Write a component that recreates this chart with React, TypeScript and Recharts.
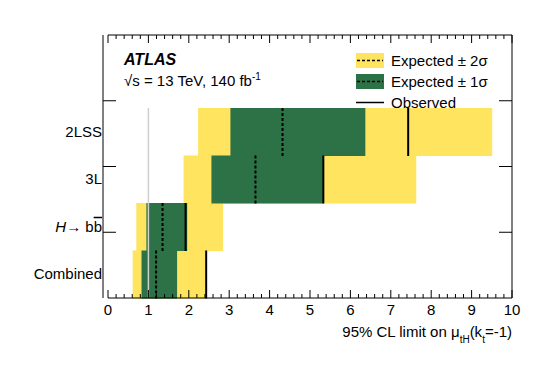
import { ComposedChart, Bar, XAxis, YAxis } from 'recharts';

const categories = ['2LSS', '3L', 'Hbb', 'Combined'];
const expLow2 = [2.23, 1.87, 0.70, 0.61];
const expHigh2 = [9.51, 7.63, 2.85, 2.42];
const expLow1 = [3.03, 2.56, 0.95, 0.83];
const expHigh1 = [6.37, 5.32, 1.96, 1.71];
const expected = [4.32, 3.65, 1.35, 1.19];
const observed = [7.43, 5.33, 1.92, 2.43];
const smRef = [1, 1, 1, 1];
const xTicks = [0, 0.2, 0.4, 0.6, 0.8, 1, 1.2, 1.4, 1.6, 1.8, 2, 2.2, 2.4, 2.6, 2.8, 3, 3.2, 3.4, 3.6, 3.8, 4, 4.2, 4.4, 4.6, 4.8, 5, 5.2, 5.4, 5.6, 5.8, 6, 6.2, 6.4, 6.6, 6.8, 7, 7.2, 7.4, 7.6, 7.8, 8, 8.2, 8.4, 8.6, 8.8, 9, 9.2, 9.4, 9.6, 9.8, 10];
// frame y ticks sit at quarters of the frame height (frame axis runs over the row index 0..n-1)
const frameFractions = [0.25, 0.5, 0.75];

const data = categories.map((cat, i) => ({
  cat,
  band2: [expLow2[i], expHigh2[i]],
  band1: [expLow1[i], expHigh1[i]],
  exp: expected[i],
  obs: observed[i],
  sm: smRef[i],
}));
const yFrameTicks = frameFractions.map((f) => f * (categories.length - 1));

const FONT = '"Liberation Sans", Arial, Helvetica, sans-serif';
const YELLOW = '#fee45f';
const GREEN = '#2d7246';
const OFF = 8; // tickSize + tickMargin of the frame axes

const isMajor = (v: number) => Math.abs(v - Math.round(v)) < 1e-6;

const BottomTick = ({ x, y, payload }: any) => {
  const major = isMajor(payload.value);
  const ay = y - OFF;
  return (
    <g>
      <line x1={x} x2={x} y1={ay} y2={ay - (major ? 8 : 4)} stroke="#000" />
      {major && (
        <text x={x} y={ay + 17} textAnchor="middle" fontSize={15} fontFamily={FONT} fill="#000">
          {Math.round(payload.value)}
        </text>
      )}
    </g>
  );
};

const TopTick = ({ x, y, payload }: any) => {
  const major = isMajor(payload.value);
  const ay = y + OFF;
  return <line x1={x} x2={x} y1={ay} y2={ay + (major ? 8 : 4)} stroke="#000" />;
};

const LeftTick = ({ x, y }: any) => <line x1={x + OFF} x2={x + OFF + 13} y1={y} y2={y} stroke="#000" />;
const RightTick = ({ x, y }: any) => <line x1={x - OFF} x2={x - OFF - 13} y1={y} y2={y} stroke="#000" />;

const CatTick = ({ x, y, payload }: any) => {
  if (payload.value === 'Hbb') {
    return (
      <text x={x} y={y + 5} textAnchor="end" fontSize={15} fontFamily={FONT} fill="#000">
        <tspan fontStyle="italic">H</tspan>
        <tspan>{'\u2192 b'}</tspan>
        <tspan textDecoration="overline" style={{ textDecoration: 'overline' }}>b</tspan>
      </text>
    );
  }
  return (
    <text x={x} y={y + 5} textAnchor="end" fontSize={15} fontFamily={FONT} fill="#000">
      {payload.value}
    </text>
  );
};

const lineShape = (color: string, dash?: string, width = 2) => (props: any) => {
  const { x, y, width: w, height } = props;
  const xx = x + w;
  return <line x1={xx} x2={xx} y1={y} y2={y + height} stroke={color} strokeWidth={width} strokeDasharray={dash} />;
};

const XTitle = ({ viewBox }: any) => {
  const right = viewBox.x + viewBox.width;
  return (
    <text x={right} y={viewBox.y + 39} textAnchor="end" fontSize={15} fontFamily={FONT} fill="#000">
      95% CL limit on {'\u03bc'}
      <tspan dy={6} fontSize={10}>tH</tspan>
      <tspan dy={-6}>(k</tspan>
      <tspan dy={6} fontSize={10}>t</tspan>
      <tspan dy={-6}>=-1)</tspan>
    </text>
  );
};

const catAxis = (id: string, visible: boolean) => (
  <YAxis
    key={id}
    yAxisId={id}
    type="category"
    dataKey="cat"
    padding={{ top: 73, bottom: 0 }}
    width={1}
    hide={!visible}
    axisLine={false}
    tickLine={false}
    tickSize={4}
    tickMargin={2}
    tick={visible ? <CatTick /> : false}
    interval={0}
  />
);

export default function App() {
  return (
    <div style={{ position: 'absolute', left: 0, top: 0, width: 539, height: 367, background: '#fff', fontFamily: FONT }}>
      <ComposedChart
        width={539}
        height={367}
        data={data}
        layout="vertical"
        barCategoryGap={0}
        barGap={0}
        margin={{ top: 34, right: 26, bottom: 68, left: 106 }}
      >
        {catAxis('c0', true)}
        {catAxis('c1', false)}
        {catAxis('c2', false)}
        {catAxis('c3', false)}
        {catAxis('c4', false)}
        <XAxis
          type="number"
          domain={[0, 10]}
          ticks={xTicks}
          interval={0}
          allowDataOverflow
          height={1}
          tickSize={6}
          tickMargin={2}
          tickLine={false}
          axisLine={{ stroke: '#000' }}
          tick={<BottomTick />}
          label={<XTitle />}
        />
        <XAxis
          xAxisId="top"
          orientation="top"
          type="number"
          domain={[0, 10]}
          ticks={xTicks}
          interval={0}
          allowDataOverflow
          height={1}
          tickSize={6}
          tickMargin={2}
          tickLine={false}
          axisLine={{ stroke: '#000' }}
          tick={<TopTick />}
        />
        <YAxis
          yAxisId="frameL"
          type="number"
          ticks={yFrameTicks}
          interval={0}
          width={1}
          tickSize={6}
          tickMargin={2}
          tickLine={false}
          axisLine={{ stroke: '#000' }}
          tick={<LeftTick />}
        />
        <YAxis
          yAxisId="frameR"
          orientation="right"
          type="number"
          ticks={yFrameTicks}
          interval={0}
          width={1}
          tickSize={6}
          tickMargin={2}
          tickLine={false}
          axisLine={{ stroke: '#000' }}
          tick={<RightTick />}
        />
        <Bar yAxisId="c0" dataKey="band2" fill={YELLOW} isAnimationActive={false} />
        <Bar yAxisId="c1" dataKey="band1" fill={GREEN} isAnimationActive={false} />
        <Bar yAxisId="c2" dataKey="sm" shape={lineShape('#cfcfcf', undefined, 1.5)} isAnimationActive={false} />
        <Bar yAxisId="c3" dataKey="exp" shape={lineShape('#000', '3 2', 2)} isAnimationActive={false} />
        <Bar yAxisId="c4" dataKey="obs" shape={lineShape('#000', undefined, 2)} isAnimationActive={false} />
      </ComposedChart>

      <div style={{ position: 'absolute', left: 124, top: 51, fontSize: 16, fontWeight: 'bold', fontStyle: 'italic' }}>ATLAS</div>
      <div style={{ position: 'absolute', left: 124, top: 71, fontSize: 15, whiteSpace: 'nowrap' }}>
        {'\u221as = 13 TeV, 140 fb'}
        <sup style={{ fontSize: 10 }}>-1</sup>
      </div>

      <div style={{ position: 'absolute', left: 356, top: 50, fontSize: 15, lineHeight: '21px' }}>
        <div style={{ display: 'flex', alignItems: 'center', height: 21 }}>
          <svg width={28} height={15} style={{ marginRight: 7 }}>
            <rect x={0} y={0} width={28} height={15} fill={YELLOW} />
            <line x1={1} x2={27} y1={7.5} y2={7.5} stroke="#000" strokeWidth={1.5} strokeDasharray="3 2" />
          </svg>
          <span>Expected {'\u00b1'} 2{'\u03c3'}</span>
        </div>
        <div style={{ display: 'flex', alignItems: 'center', height: 21 }}>
          <svg width={28} height={15} style={{ marginRight: 7 }}>
            <rect x={0} y={0} width={28} height={15} fill={GREEN} />
            <line x1={1} x2={27} y1={7.5} y2={7.5} stroke="#000" strokeWidth={1.5} strokeDasharray="3 2" />
          </svg>
          <span>Expected {'\u00b1'} 1{'\u03c3'}</span>
        </div>
        <div style={{ display: 'flex', alignItems: 'center', height: 21 }}>
          <svg width={28} height={15} style={{ marginRight: 7 }}>
            <line x1={0} x2={28} y1={7.5} y2={7.5} stroke="#000" strokeWidth={1.5} />
          </svg>
          <span>Observed</span>
        </div>
      </div>
    </div>
  );
}
